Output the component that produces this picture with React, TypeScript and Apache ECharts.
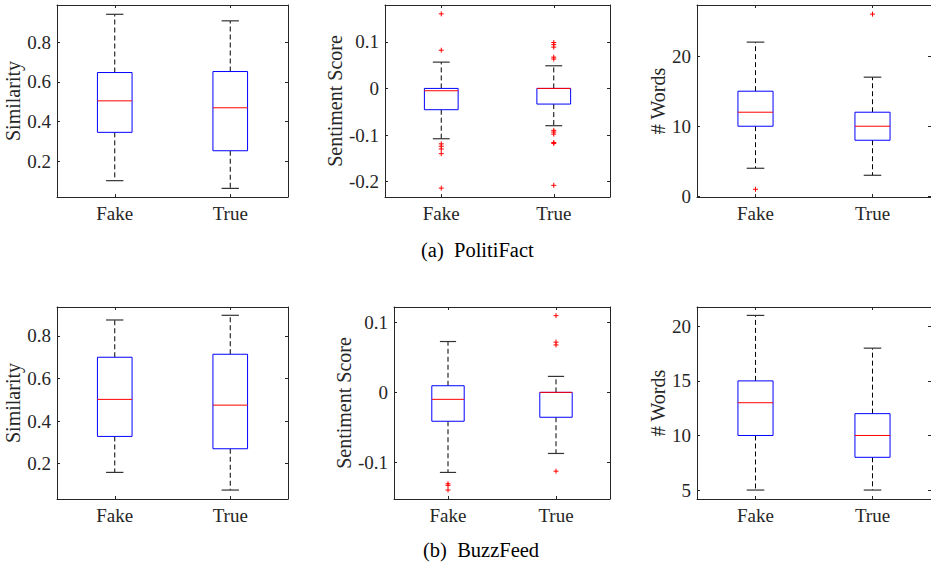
import React, { useEffect, useRef } from "react";
import * as echarts from "echarts";

const categories = ["Fake", "True"];

// box stats per category: [lower whisker, Q1, median, Q3, upper whisker]
const pfSimBox = [
  [0.101, 0.345, 0.504, 0.647, 0.941],
  [0.062, 0.252, 0.469, 0.652, 0.908],
];
const pfSentBox = [
  [-0.108, -0.0457, -0.005, 0, 0.0564],
  [-0.08, -0.0336, 0, 0, 0.0486],
];
const pfWordsBox = [
  [4, 10, 12, 15, 22],
  [3, 8, 10, 12, 17],
];
const bfSimBox = [
  [0.159, 0.328, 0.502, 0.7, 0.875],
  [0.076, 0.27, 0.475, 0.714, 0.897],
];
const bfSentBox = [
  [-0.1148, -0.0414, -0.01, 0.0095, 0.0729],
  [-0.0876, -0.0357, 0, 0, 0.0229],
];
const bfWordsBox = [
  [5, 10, 13, 15, 21],
  [5, 8, 10, 12, 18],
];

// outliers per category
const pfSimOut = [[], []];
const pfSentOut = [
  [0.16, 0.082, -0.119, -0.124, -0.13, -0.14, -0.214],
  [0.0985, 0.094, 0.0886, 0.067, 0.063, -0.09, -0.0936, -0.098, -0.116, -0.118, -0.208],
];
const pfWordsOut = [[1], [26]];
const bfSimOut = [[], []];
const bfSentOut = [
  [-0.131, -0.1333, -0.14],
  [0.11, 0.072, 0.068, -0.113],
];
const bfWordsOut = [[], []];

// tick values
const pfSimTicks = [0.2, 0.4, 0.6, 0.8];
const pfSentTicks = [-0.2, -0.1, 0, 0.1];
const pfWordsTicks = [0, 10, 20];
const bfSimTicks = [0.2, 0.4, 0.6, 0.8];
const bfSentTicks = [-0.1, 0, 0.1];
const bfWordsTicks = [5, 10, 15, 20];

const yNames = ["Similarity", "Sentiment Score", "# Words"];
const captions = ["(a)  PolitiFact", "(b)  BuzzFeed"];

const panels = [
  { box: pfSimBox, out: pfSimOut, ticks: pfSimTicks, name: yNames[0], min: 0.0185, max: 0.988, grid: { left: 57, top: 5, width: 231, height: 192 }, gap: 32 },
  { box: pfSentBox, out: pfSentOut, ticks: pfSentTicks, name: yNames[1], min: -0.233, max: 0.179, grid: { left: 385, top: 5, width: 225, height: 192 }, gap: 38 },
  { box: pfWordsBox, out: pfWordsOut, ticks: pfWordsTicks, name: yNames[2], min: -0.1, max: 27.3, grid: { left: 697, top: 5, width: 236, height: 192 }, gap: 28 },
  { box: bfSimBox, out: bfSimOut, ticks: bfSimTicks, name: yNames[0], min: 0.034, max: 0.936, grid: { left: 57, top: 307, width: 231, height: 192 }, gap: 32 },
  { box: bfSentBox, out: bfSentOut, ticks: bfSentTicks, name: yNames[1], min: -0.1529, max: 0.1224, grid: { left: 394, top: 307, width: 216, height: 192 }, gap: 39 },
  { box: bfWordsBox, out: bfWordsOut, ticks: bfWordsTicks, name: yNames[2], min: 4.18, max: 21.77, grid: { left: 697, top: 307, width: 236, height: 192 }, gap: 28 },
];

const FONT = "Liberation Serif";
const AXIS = "#262626";

function renderBox(params: any, api: any) {
  const x = api.value(0);
  const lo = api.coord([x, api.value(1)]);
  const q1 = api.coord([x, api.value(2)]);
  const med = api.coord([x, api.value(3)]);
  const q3 = api.coord([x, api.value(4)]);
  const hi = api.coord([x, api.value(5)]);
  const band = api.size([1, 0])[0];
  const bw = band * 0.3;
  const cw = bw * 0.5;
  const cx = med[0];
  const dash = { stroke: "#000", lineWidth: 1, lineDash: [5, 3], fill: "none" };
  const solid = { stroke: "#333", lineWidth: 1.2, fill: "none" };
  return {
    type: "group",
    children: [
      { type: "line", shape: { x1: cx, y1: q3[1], x2: cx, y2: hi[1] }, style: dash },
      { type: "line", shape: { x1: cx, y1: q1[1], x2: cx, y2: lo[1] }, style: dash },
      { type: "line", shape: { x1: cx - cw / 2, y1: hi[1], x2: cx + cw / 2, y2: hi[1] }, style: solid },
      { type: "line", shape: { x1: cx - cw / 2, y1: lo[1], x2: cx + cw / 2, y2: lo[1] }, style: solid },
      { type: "rect", shape: { x: cx - bw / 2, y: q3[1], width: bw, height: q1[1] - q3[1] }, style: { stroke: "#0000ff", lineWidth: 1, fill: "#fff" } },
      { type: "line", shape: { x1: cx - bw / 2, y1: med[1], x2: cx + bw / 2, y2: med[1] }, style: { stroke: "#ff0000", lineWidth: 1 } },
    ],
  };
}

function renderOut(params: any, api: any) {
  const p = api.coord([api.value(0), api.value(1)]);
  const s = 2.5;
  const st = { stroke: "#ff0000", lineWidth: 1 };
  return {
    type: "group",
    children: [
      { type: "line", shape: { x1: p[0] - s, y1: p[1], x2: p[0] + s, y2: p[1] }, style: st },
      { type: "line", shape: { x1: p[0], y1: p[1] - s, x2: p[0], y2: p[1] + s }, style: st },
    ],
  };
}

export default function App() {
  const ref = useRef<HTMLDivElement>(null);
  useEffect(() => {
    if (!ref.current) return;
    const chart = echarts.init(ref.current, null, { renderer: "svg" });
    const grids: any[] = [];
    const xAxes: any[] = [];
    const yAxes: any[] = [];
    const series: any[] = [];
    panels.forEach((p, i) => {
      grids.push({ ...p.grid, show: false });
      const line = { show: true, onZero: false, lineStyle: { color: AXIS, width: 1 } };
      const xtick = { show: true, inside: true, length: 3, alignWithLabel: true, lineStyle: { color: AXIS } };
      const ytick = { show: true, inside: true, length: 3, customValues: p.ticks, lineStyle: { color: AXIS } };
      xAxes.push({
        gridIndex: i, type: "category", data: categories, position: "bottom",
        axisLine: line, axisTick: xtick,
        axisLabel: { interval: 0, margin: 7, fontFamily: FONT, fontSize: 19, color: AXIS },
        splitLine: { show: false },
      });
      xAxes.push({
        gridIndex: i, type: "category", data: categories, position: "top",
        axisLine: line, axisTick: xtick,
        axisLabel: { show: false }, splitLine: { show: false },
      });
      yAxes.push({
        gridIndex: i, type: "value", position: "left", min: p.min, max: p.max,
        axisLine: line, axisTick: ytick,
        axisLabel: { margin: 6, fontFamily: FONT, fontSize: 19, color: AXIS, customValues: p.ticks },
        splitLine: { show: false },
        name: p.name, nameLocation: "middle", nameGap: p.gap,
        nameTextStyle: { fontFamily: FONT, fontSize: 20, color: AXIS },
      });
      yAxes.push({
        gridIndex: i, type: "value", position: "right", min: p.min, max: p.max,
        axisLine: line, axisTick: ytick, axisLabel: { show: false }, splitLine: { show: false },
      });
      series.push({
        type: "custom", xAxisIndex: i * 2, yAxisIndex: i * 2,
        renderItem: renderBox,
        encode: { x: 0, y: [1, 2, 3, 4, 5] },
        data: p.box.map((b, k) => [k, ...b]),
        silent: true,
      });
      const outData: number[][] = [];
      p.out.forEach((arr: number[], k: number) => arr.forEach((v) => outData.push([k, v])));
      series.push({
        type: "custom", xAxisIndex: i * 2, yAxisIndex: i * 2,
        renderItem: renderOut,
        encode: { x: 0, y: 1 },
        data: outData,
        silent: true,
      });
    });
    chart.setOption({
      animation: false,
      backgroundColor: "#fff",
      grid: grids,
      xAxis: xAxes,
      yAxis: yAxes,
      series,
      graphic: [
        { type: "text", left: 421, top: 239, style: { text: captions[0], fontFamily: FONT, fontSize: 20.5, fill: "#000" } },
        { type: "text", left: 423, top: 539, style: { text: captions[1], fontFamily: FONT, fontSize: 20.5, fill: "#000" } },
      ],
    });
    return () => chart.dispose();
  }, []);
  return (
    <div
      ref={ref}
      style={{ position: "fixed", left: 0, top: 0, width: 931, height: 567, background: "#fff" }}
    />
  );
}
